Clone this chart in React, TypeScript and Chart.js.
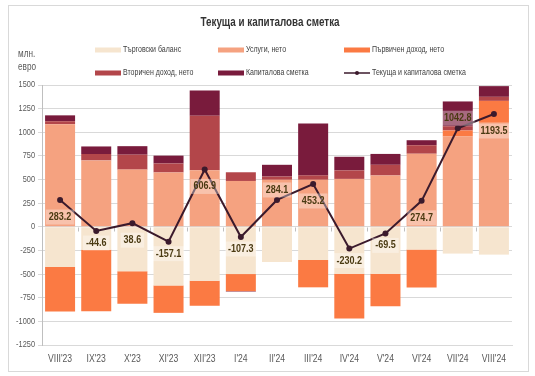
import React, { useEffect, useRef } from 'react';
import { Chart, registerables } from 'chart.js';

Chart.register(...registerables);

const categories = ["VIII'23", "IX'23", "X'23", "XI'23", "XII'23", "I'24", "II'24", "III'24", "IV'24", "V'24", "VI'24", "VII'24", "VIII'24"];
const tradeBalance = [-425, -243, -470, -620, -570, -500, -372, -350, -496, -496, -241, -283, -294];
const services = [1085, 702, 605, 575, 597, 485, 497, 497, 507, 543, 773, 957, 1100];
const primaryIncome = [-470, -650, -345, -290, -265, -180, 0, -290, -475, -345, -400, 62, 232];
const secondaryIncome = [32, 68, 158, 95, 578, 92, 35, 47, 90, 113, 90, 45, 43];
const capitalAccount = [62, 80, 90, 83, 267, -5, 124, 549, 144, 115, 53, 262, 113];
const currentAndCapital = [283.2, -44.6, 38.6, -157.1, 606.9, -107.3, 284.1, 453.2, -230.2, -69.5, 274.7, 1042.8, 1193.5];

const seriesNames = ['Търговски баланс', 'Услуги, нето', 'Първичен доход, нето', 'Вторичен доход, нето', 'Капиталова сметка', 'Текуща и капиталова сметка'];
const chartTitle = 'Текуща и капиталова сметка';
const unitLines = ['млн.', 'евро'];
const yMin = -1250;
const yMax = 1500;
const yStep = 250;

const colors = ['#f6e5cf', '#f5a280', '#fb7a43', '#b3464a', '#791b3c', '#3b1a2c'];
const labelsAbove = [6, 11];
const FONT = "'Liberation Sans', Arial, sans-serif";

function narrowText(ctx: CanvasRenderingContext2D, text: string, x: number, y: number, align: CanvasTextAlign, sx = 0.82) {
  ctx.save();
  ctx.translate(x, y);
  ctx.scale(sx, 1);
  ctx.textAlign = align;
  ctx.fillText(text, 0, 0);
  ctx.restore();
}

const decorPlugin = {
  id: 'decor',
  beforeDraw(chart: any) {
    const ctx = chart.ctx;
    ctx.save();
    ctx.fillStyle = '#ffffff';
    ctx.fillRect(0, 0, chart.width, chart.height);
    ctx.strokeStyle = '#d9d9d9';
    ctx.lineWidth = 1;
    ctx.strokeRect(8.5, 5.5, 520, 366);
    ctx.textBaseline = 'middle';
    // title
    ctx.fillStyle = '#333333';
    ctx.font = `bold 12px ${FONT}`;
    narrowText(ctx, chartTitle, 270, 23, 'center');
    // unit
    ctx.fillStyle = '#595959';
    ctx.font = `10px ${FONT}`;
    narrowText(ctx, unitLines[0], 18, 54, 'left');
    narrowText(ctx, unitLines[1], 18, 67, 'left');
    // legend
    const pos = [[95, 50], [218, 50], [344, 50], [95, 73], [218, 73], [344, 73]];
    chart.data.datasets.forEach((ds: any, i: number) => {
      const [x, y] = pos[i];
      if (ds.type === 'line') {
        ctx.strokeStyle = ds.borderColor;
        ctx.lineWidth = 1.5;
        ctx.beginPath();
        ctx.moveTo(x, y);
        ctx.lineTo(x + 26, y);
        ctx.stroke();
        ctx.fillStyle = ds.borderColor;
        ctx.beginPath();
        ctx.arc(x + 13, y, 2, 0, Math.PI * 2);
        ctx.fill();
      } else {
        ctx.fillStyle = ds.backgroundColor;
        ctx.fillRect(x, y - 2.5, 26, 5);
      }
      ctx.fillStyle = '#404040';
      ctx.font = `9px ${FONT}`;
      narrowText(ctx, ds.label, x + 28, y, 'left', 0.78);
    });
    ctx.restore();
  },
  beforeDatasetsDraw(chart: any) {
    const ctx = chart.ctx;
    const ys = chart.scales.y;
    const xs = chart.scales.x;
    const ca = chart.chartArea;
    const y0 = Math.round(ys.getPixelForValue(0)) + 0.5;
    ctx.save();
    ctx.strokeStyle = '#bfbfbf';
    ctx.lineWidth = 1;
    const n = categories.length;
    const w = (ca.right - ca.left) / n;
    for (let i = 1; i < n; i++) {
      const x = Math.round(ca.left + i * w) + 0.5;
      ctx.beginPath();
      ctx.moveTo(x, y0);
      ctx.lineTo(x, y0 + 4);
      ctx.stroke();
    }
    // axis tick labels
    ctx.fillStyle = '#595959';
    ctx.textBaseline = 'middle';
    ctx.font = `9px ${FONT}`;
    ys.ticks.forEach((t: any) => {
      narrowText(ctx, String(t.value), ca.left - 7, ys.getPixelForValue(t.value), 'right');
    });
    ctx.font = `10.5px ${FONT}`;
    categories.forEach((c, i) => {
      narrowText(ctx, c, xs.getPixelForValue(i), ca.bottom + 14, 'center');
    });
    ctx.restore();
  },
  afterDatasetsDraw(chart: any) {
    const ctx = chart.ctx;
    const idx = chart.data.datasets.findIndex((d: any) => d.type === 'line');
    const meta = chart.getDatasetMeta(idx);
    const data = chart.data.datasets[idx].data;
    ctx.save();
    ctx.font = `bold 11px ${FONT}`;
    ctx.textBaseline = 'middle';
    meta.data.forEach((pt: any, i: number) => {
      const text = Number(data[i]).toFixed(1);
      const above = labelsAbove.includes(i);
      const cy = pt.y + (above ? -10 : (data[i] >= 0 ? 17 : 12));
      const tw = ctx.measureText(text).width * 0.82;
      ctx.fillStyle = 'rgba(255,255,255,0.35)';
      ctx.fillRect(pt.x - tw / 2 - 3, cy - 7.5, tw + 6, 15);
      ctx.fillStyle = '#4a3a12';
      narrowText(ctx, text, pt.x, cy, 'center');
    });
    ctx.restore();
  },
};

export default function App() {
  const ref = useRef<HTMLCanvasElement | null>(null);
  useEffect(() => {
    if (!ref.current) return;
    const barSets = [tradeBalance, services, primaryIncome, secondaryIncome, capitalAccount].map((d, i) => ({
      type: 'bar' as const,
      label: seriesNames[i],
      data: d,
      backgroundColor: colors[i],
      borderWidth: 0,
      stack: 'bars',
      order: 2,
      barPercentage: 0.83,
      categoryPercentage: 1,
    }));
    const chart = new Chart(ref.current, {
      type: 'bar',
      data: {
        labels: categories,
        datasets: [
          ...barSets,
          {
            type: 'line' as const,
            label: seriesNames[5],
            data: currentAndCapital,
            borderColor: colors[5],
            backgroundColor: colors[5],
            borderWidth: 2,
            pointRadius: 3,
            pointBackgroundColor: colors[5],
            pointBorderWidth: 0,
            tension: 0,
            stack: 'line',
            order: 1,
          } as any,
        ],
      },
      options: {
        animation: false,
        responsive: false,
        devicePixelRatio: 1,
        layout: { padding: { left: 0, right: 23, top: 85, bottom: 0 } },
        plugins: { legend: { display: false }, title: { display: false }, tooltip: { enabled: false } },
        scales: {
          x: {
            stacked: true,
            grid: { display: false, drawTicks: false },
            border: { display: true, color: '#d9d9d9' },
            ticks: { display: false },
            afterFit: (s: any) => { s.height = 31; },
          },
          y: {
            stacked: true,
            min: yMin,
            max: yMax,
            grid: { color: '#d9d9d9', tickLength: 4 },
            border: { display: true, color: '#bfbfbf' },
            ticks: { stepSize: yStep, display: false },
            afterFit: (s: any) => { s.width = 42; },
          },
        },
      },
      plugins: [decorPlugin],
    });
    return () => chart.destroy();
  }, []);
  return (
    <div style={{ position: 'fixed', left: 0, top: 0, width: 535, height: 376 }}>
      <canvas ref={ref} width={535} height={376} style={{ display: 'block', width: 535, height: 376 }} />
    </div>
  );
}
